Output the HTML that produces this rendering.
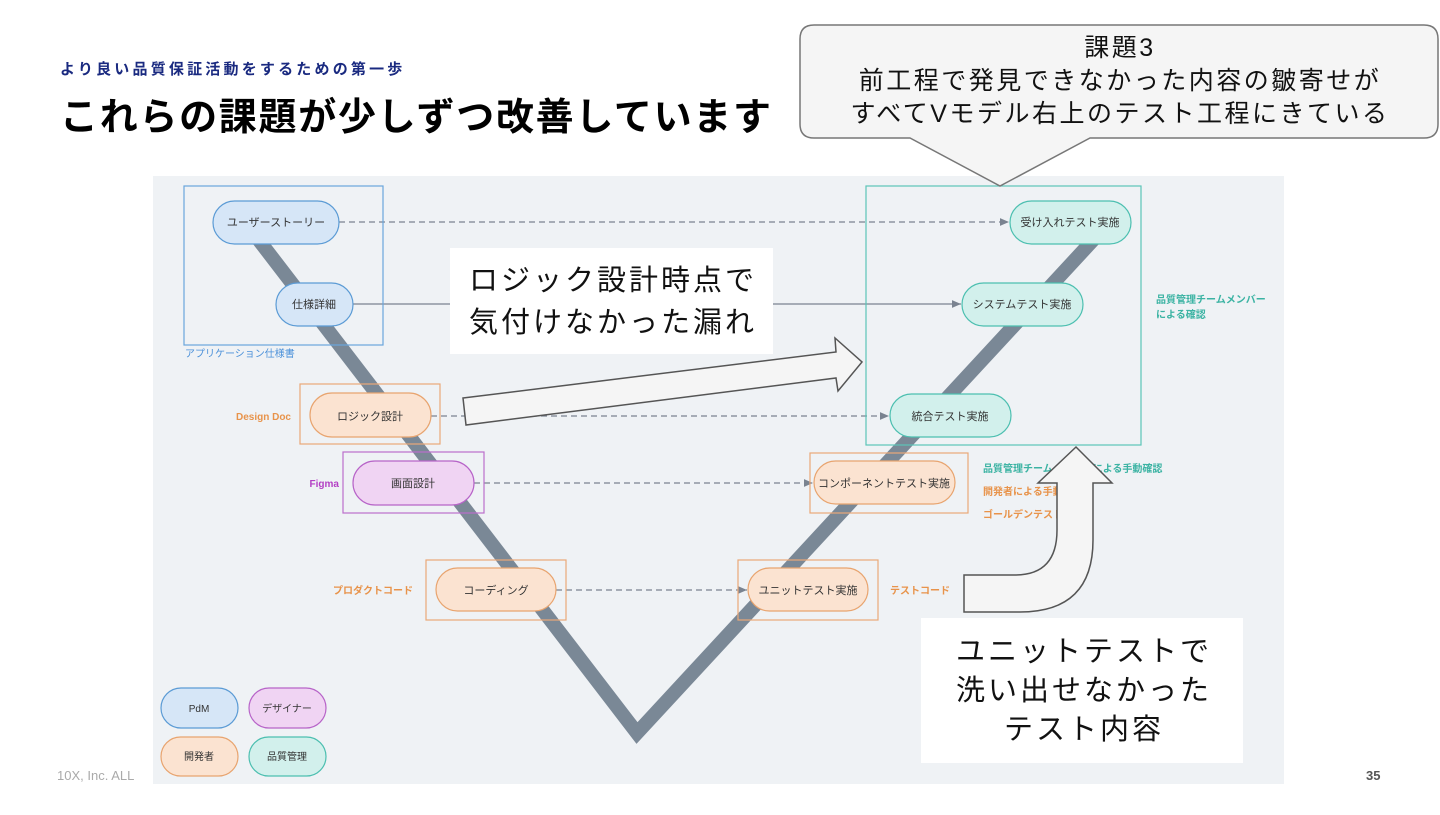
<!DOCTYPE html>
<html><head><meta charset="utf-8"><style>
body{margin:0;width:1440px;height:810px;background:#fff;overflow:hidden;font-family:"Liberation Sans","Noto Sans CJK JP",sans-serif;}
svg text{font-family:"Liberation Sans","Noto Sans CJK JP",sans-serif;}
</style></head><body>
<svg width="1440" height="810" viewBox="0 0 1440 810" xmlns="http://www.w3.org/2000/svg">
<text x="60" y="74" font-size="15" font-weight="bold" fill="#1a2a80" letter-spacing="3.2">より良い品質保証活動をするための第一歩</text>
<text x="60" y="130" font-size="38" font-weight="bold" fill="#000" letter-spacing="1.7">これらの課題が少しずつ改善しています</text>
<text x="57" y="780" font-size="13" fill="#aaa">10X, Inc. ALL</text>
<text x="1366" y="780" font-size="13" font-weight="bold" fill="#555">35</text>

<rect x="153" y="176" width="1131" height="608" fill="#eff2f5"/>
<polyline points="248,226 637,733 1095,238" fill="none" stroke="#7a8896" stroke-width="14"/>

<defs><marker id="ah" markerWidth="8" markerHeight="8" refX="7" refY="4" orient="auto"><path d="M0,1 L7,4 L0,7 Z" fill="#7a8390"/></marker></defs>
<g stroke="#7a8390" stroke-width="1.3" fill="none">
<line x1="339" y1="222" x2="1009" y2="222" stroke-dasharray="6,4" marker-end="url(#ah)"/>
<line x1="353" y1="304" x2="961" y2="304" marker-end="url(#ah)"/>
<line x1="431" y1="416" x2="889" y2="416" stroke-dasharray="6,4" marker-end="url(#ah)"/>
<line x1="474" y1="483" x2="813" y2="483" stroke-dasharray="6,4" marker-end="url(#ah)"/>
<line x1="556" y1="590" x2="747" y2="590" stroke-dasharray="6,4" marker-end="url(#ah)"/>
</g>

<rect x="184" y="186" width="199" height="159" fill="none" stroke="#6aa6dc" stroke-width="1.2"/>
<rect x="300" y="384" width="140" height="60" fill="none" stroke="#eaa877" stroke-width="1.2"/>
<rect x="343" y="452" width="141" height="61" fill="none" stroke="#bb6fcc" stroke-width="1.2"/>
<rect x="426" y="560" width="140" height="60" fill="none" stroke="#eaa877" stroke-width="1.2"/>
<rect x="738" y="560" width="140" height="60" fill="none" stroke="#eaa877" stroke-width="1.2"/>
<rect x="810" y="453" width="158" height="60" fill="none" stroke="#eaa877" stroke-width="1.2"/>
<rect x="866" y="186" width="275" height="259" fill="none" stroke="#5cc5b8" stroke-width="1.2"/>

<g font-size="11" text-anchor="middle" fill="#333" stroke-width="1.2">
<rect x="213" y="201" width="126" height="43" rx="21.5" fill="#d6e6f7" stroke="#5b9bd5"/><text x="276" y="226">ユーザーストーリー</text>
<rect x="276" y="283" width="77" height="43" rx="21.5" fill="#d6e6f7" stroke="#5b9bd5"/><text x="314" y="308">仕様詳細</text>
<rect x="310" y="393" width="121" height="44" rx="22" fill="#fbe3d1" stroke="#e8a46f"/><text x="370" y="420">ロジック設計</text>
<rect x="353" y="461" width="121" height="44" rx="22" fill="#f0d4f3" stroke="#b764c8"/><text x="413" y="487">画面設計</text>
<rect x="436" y="568" width="120" height="43" rx="21.5" fill="#fbe3d1" stroke="#e8a46f"/><text x="496" y="594">コーディング</text>
<rect x="748" y="568" width="120" height="43" rx="21.5" fill="#fbe3d1" stroke="#e8a46f"/><text x="808" y="594">ユニットテスト実施</text>
<rect x="814" y="461" width="141" height="43" rx="21.5" fill="#fbe3d1" stroke="#e8a46f"/><text x="884" y="487">コンポーネントテスト実施</text>
<rect x="1010" y="201" width="121" height="43" rx="21.5" fill="#d2f0ec" stroke="#4cbfb0"/><text x="1070" y="226">受け入れテスト実施</text>
<rect x="962" y="283" width="121" height="43" rx="21.5" fill="#d2f0ec" stroke="#4cbfb0"/><text x="1022" y="308">システムテスト実施</text>
<rect x="890" y="394" width="121" height="43" rx="21.5" fill="#d2f0ec" stroke="#4cbfb0"/><text x="950" y="420">統合テスト実施</text>
<rect x="161" y="688" width="77" height="40" rx="20" fill="#d6e6f7" stroke="#5b9bd5"/><text x="199" y="712" font-size="10">PdM</text>
<rect x="249" y="688" width="77" height="40" rx="20" fill="#f0d4f3" stroke="#b764c8"/><text x="287" y="712" font-size="10">デザイナー</text>
<rect x="161" y="737" width="77" height="39" rx="19.5" fill="#fbe3d1" stroke="#e8a46f"/><text x="199" y="760" font-size="10">開発者</text>
<rect x="249" y="737" width="77" height="39" rx="19.5" fill="#d2f0ec" stroke="#4cbfb0"/><text x="287" y="760" font-size="10">品質管理</text>
</g>

<g font-size="10" font-weight="bold">
<text x="185" y="357" fill="#4a90d9" font-weight="normal">アプリケーション仕様書</text>
<text x="291" y="420" fill="#e8934a" text-anchor="end">Design Doc</text>
<text x="339" y="487" fill="#b33fc4" text-anchor="end">Figma</text>
<text x="413" y="594" fill="#e8934a" text-anchor="end">プロダクトコード</text>
<text x="890" y="594" fill="#e8934a">テストコード</text>
<text x="1156" y="303" fill="#3bb3a3">品質管理チームメンバー</text>
<text x="1156" y="318" fill="#3bb3a3">による確認</text>
<text x="983" y="472" fill="#3bb3a3">品質管理チームメンバーによる手動確認</text>
<text x="983" y="495" fill="#e8934a">開発者による手動確認</text>
<text x="983" y="518" fill="#e8934a">ゴールデンテスト</text>
</g>

<path d="M463,398 L836,352 L835,338 L862,362 L838,391 L836,378 L466,425 Z" fill="#f5f5f5" stroke="#555" stroke-width="1.5"/>
<path d="M964,575 L1015,575 Q1057,575 1057,530 L1057,483 L1038,483 L1076,447 L1112,483 L1093,483 L1093,540 Q1093,612 1020,612 L964,612 Z" fill="#f5f5f5" stroke="#555" stroke-width="1.5"/>

<rect x="450" y="248" width="323" height="106" fill="#fff"/>
<g font-size="29" text-anchor="middle" fill="#111" letter-spacing="3">
<text x="613" y="290">ロジック設計時点で</text>
<text x="613" y="332">気付けなかった漏れ</text>
</g>
<rect x="921" y="618" width="322" height="145" fill="#fff"/>
<g font-size="29" text-anchor="middle" fill="#111" letter-spacing="3">
<text x="1084" y="661">ユニットテストで</text>
<text x="1084" y="700">洗い出せなかった</text>
<text x="1084" y="739">テスト内容</text>
</g>

<path d="M814,25 L1424,25 Q1438,25 1438,39 L1438,124 Q1438,138 1424,138 L1090,138 L1000,186 L910,138 L814,138 Q800,138 800,124 L800,39 Q800,25 814,25 Z" fill="#f5f5f5" stroke="#777" stroke-width="1.5"/>
<g font-size="25" text-anchor="middle" fill="#111" letter-spacing="2.5">
<text x="1120" y="56">課題3</text>
<text x="1120" y="89">前工程で発見できなかった内容の皺寄せが</text>
<text x="1120" y="122">すべてVモデル右上のテスト工程にきている</text>
</g>
</svg>
</body></html>
